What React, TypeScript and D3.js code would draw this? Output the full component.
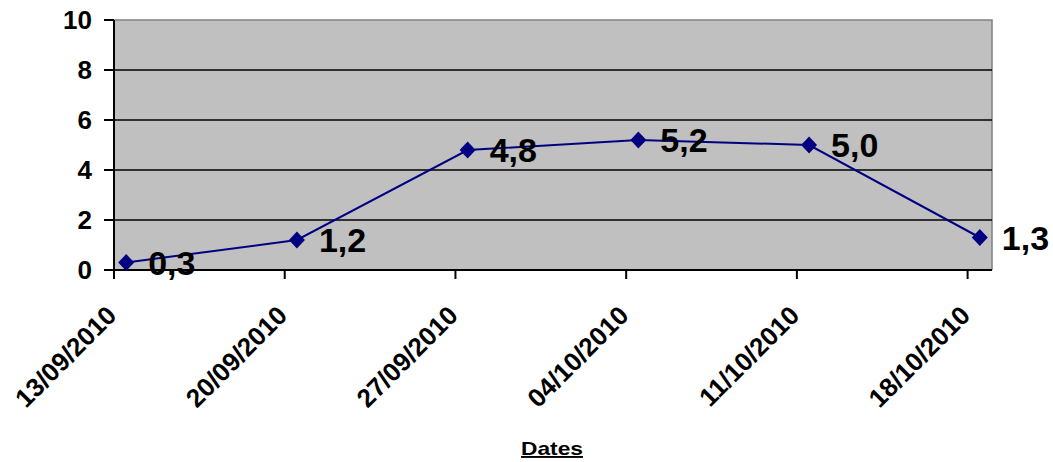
import React from 'react';
import * as d3 from 'd3';

const dates = ['13/09/2010', '20/09/2010', '27/09/2010', '04/10/2010', '11/10/2010', '18/10/2010'];
const values = [0.3, 1.2, 4.8, 5.2, 5.0, 1.3];
const yTicks = [0, 2, 4, 6, 8, 10];
const xTitle = 'Dates';

const width = 1053;
const height = 462;
const plot = { left: 114, right: 992, top: 20, bottom: 270 };
const font = 'Arial, "Liberation Sans", sans-serif';

const parse = d3.timeParse('%d/%m/%Y');
const fr = d3.formatLocale({ decimal: ',', thousands: ' ', grouping: [3], currency: ['', ' €'] });
const fmt = fr.format('.1f');

const App = () => {
  const days = dates.map(d => parse(d) as Date);
  const x = d3.scaleTime()
    .domain([days[0], d3.timeDay.offset(days[days.length - 1], 1)])
    .range([plot.left, plot.right]);
  const y = d3.scaleLinear().domain([0, 10]).range([plot.bottom, plot.top]);

  // Excel centres each point in the middle of its day
  const pts = days.map((d, i) => ({
    x: x(d3.timeHour.offset(d, 12)),
    y: y(values[i]),
    v: values[i],
  }));

  const line = d3.line<{ x: number; y: number }>().x(d => d.x).y(d => d.y);
  const diamond = 'M0,-8.5L8,0L0,8.5L-8,0Z';

  return (
    <svg width={width} height={height} style={{ position: 'absolute', left: 0, top: 0, background: '#fff' }}>
      <rect x={plot.left} y={plot.top} width={plot.right - plot.left} height={plot.bottom - plot.top} fill="#C0C0C0" />
      {/* plot border */}
      <path d={`M${plot.left},${plot.top}H${plot.right}V${plot.bottom}`} fill="none" stroke="#808080" strokeWidth={1.5} />
      {/* gridlines */}
      {yTicks.slice(1, -1).map(t => (
        <line key={t} x1={plot.left} x2={plot.right} y1={y(t)} y2={y(t)} stroke="#000" strokeWidth={1.5} />
      ))}
      {/* y axis */}
      <line x1={plot.left} x2={plot.left} y1={plot.top} y2={plot.bottom} stroke="#000" strokeWidth={2} />
      {yTicks.map(t => (
        <g key={t}>
          <line x1={plot.left - 10} x2={plot.left} y1={y(t)} y2={y(t)} stroke="#000" strokeWidth={2} />
          <text x={92} y={y(t)} dy="0.36em" textAnchor="end" fontFamily={font} fontWeight="bold" fontSize={26}>
            {t}
          </text>
        </g>
      ))}
      {/* x axis */}
      <line x1={plot.left} x2={plot.right} y1={plot.bottom} y2={plot.bottom} stroke="#000" strokeWidth={2} />
      {days.map((d, i) => (
        <g key={i}>
          <line x1={x(d)} x2={x(d)} y1={plot.bottom} y2={plot.bottom + 9} stroke="#000" strokeWidth={2} />
          <text
            transform={`translate(${x(d) + 4},${317}) rotate(-45)`}
            textAnchor="end"
            fontFamily={font}
            fontWeight="bold"
            fontSize={26}
          >
            {dates[i]}
          </text>
        </g>
      ))}
      <text
        x={552}
        y={455}
        textAnchor="middle"
        fontFamily={font}
        fontWeight="bold"
        fontSize={19}
        textDecoration="underline"
        textLength={62}
        lengthAdjust="spacingAndGlyphs"
      >
        {xTitle}
      </text>
      {/* series */}
      <path d={line(pts) || ''} fill="none" stroke="#000080" strokeWidth={2} />
      {pts.map((p, i) => (
        <path key={i} d={diamond} transform={`translate(${p.x},${p.y})`} fill="#000080" />
      ))}
      {pts.map((p, i) => (
        <text key={i} x={p.x + 22} y={p.y} dy="0.36em" fontFamily={font} fontWeight="bold" fontSize={34}>
          {fmt(p.v)}
        </text>
      ))}
    </svg>
  );
};

export default App;
